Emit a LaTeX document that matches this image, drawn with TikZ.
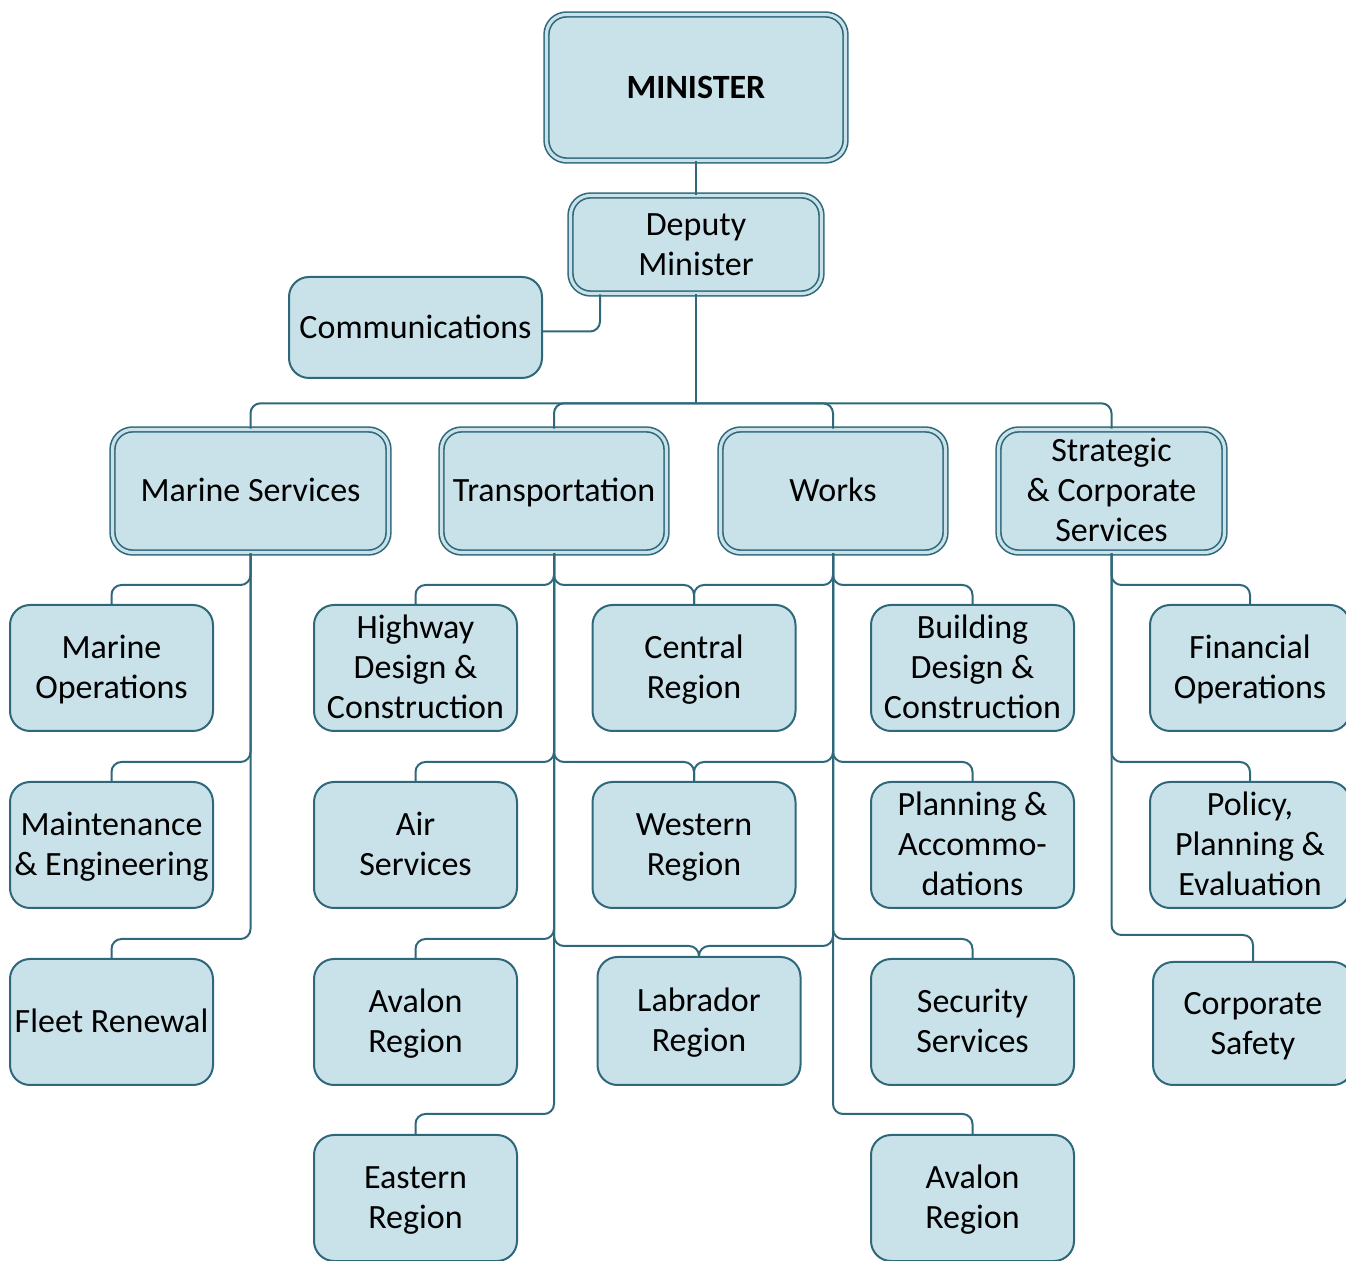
\documentclass[tikz,border=0pt]{standalone}
\usepackage{fontspec}
\setmainfont{Carlito}
\definecolor{boxfill}{RGB}{201,226,234}
\definecolor{boxline}{RGB}{46,104,122}
\newcommand{\bs}{\rule[-4.7pt]{0pt}{20pt}}
\begin{document}
\begin{tikzpicture}[x=0.5pt,y=-0.5pt,
  box/.style={draw=boxline, fill=boxfill, line width=1pt, rounded corners=10pt, align=center,
    font=\fontsize{17}{20}\selectfont, inner sep=0pt, minimum width=101.5pt, minimum height=63pt},
  dbox/.style={box, double=boxfill, double distance=1.6pt, line width=0.8pt},
  conn/.style={draw=boxline, line width=1pt, rounded corners=5pt}]
\useasboundingbox (0,0) rectangle (1346,1261);
% top
\node[dbox, minimum width=149.5pt, minimum height=73pt, font=\fontsize{17}{20}\selectfont\bfseries] (min) at (696,87.5) {\bs MINISTER\bs};
\node[dbox, minimum width=125.5pt, minimum height=49pt] (dep) at (696,244.5) {\bs Deputy\\Minister\bs};
\node[box, minimum width=126.5pt, minimum height=50.5pt] (com) at (415.5,327.5) {\bs Communications\bs};
% departments
\node[dbox, minimum width=138pt, minimum height=61.5pt] (ms) at (250.5,491) {\bs Marine Services\bs};
\node[dbox, minimum width=112.5pt, minimum height=61.5pt] (tr) at (554,491) {\bs Transportation\bs};
\node[dbox, minimum width=112.5pt, minimum height=61.5pt] (wk) at (833,491) {\bs Works\bs};
\node[dbox, minimum width=113pt, minimum height=61.5pt] (sc) at (1111.5,491) {\bs Strategic\\\& Corporate\\Services\bs};
% marine children
\node[box] (mo) at (111.5,668) {\bs Marine\\Operations\bs};
\node[box] (me) at (111.5,845) {\bs Maintenance\\\& Engineering\bs};
\node[box] (fr) at (111.5,1022) {\bs Fleet Renewal\bs};
% transportation children
\node[box] (hd) at (415.5,668) {\bs Highway\\Design \&\\Construction\bs};
\node[box] (as) at (415.5,845) {\bs Air\\Services\bs};
\node[box] (av) at (415.5,1022) {\bs Avalon\\Region\bs};
\node[box] (er) at (415.5,1198) {\bs Eastern\\Region\bs};
\node[box] (cr) at (694,668) {\bs Central\\Region\bs};
\node[box] (wr) at (694,845) {\bs Western\\Region\bs};
\node[box, minimum height=64pt] (lr) at (699,1021) {\bs Labrador\\Region\bs};
% works children
\node[box] (bd) at (972.5,668) {\bs Building\\Design \&\\Construction\bs};
\node[box] (pa) at (972.5,845) {\bs Planning \&\\Accommo-\\dations\bs};
\node[box] (ss) at (972.5,1022) {\bs Security\\Services\bs};
\node[box] (aw) at (972.5,1198) {\bs Avalon\\Region\bs};
% strategic children
\node[box, minimum width=100pt] (fo) at (1250,668) {\bs Financial\\Operations\bs};
\node[box, minimum width=100pt] (pp) at (1250,845) {\bs Policy,\\Planning \&\\Evaluation\bs};
\node[box, minimum width=100pt, minimum height=61.5pt] (cs) at (1253,1023.5) {\bs Corporate\\Safety\bs};
% connectors
\coordinate (hub) at ([yshift=-54.5pt]dep.south);
\draw[conn] (min) -- (dep);
\draw[conn] (dep.south) ++(-96,0) |- ([yshift=-2pt]com.east);
\draw[conn] (dep.south) -- (hub);
\foreach \d in {ms,tr,wk,sc} \draw[conn] (hub) -| (\d.north);
\foreach \c in {mo,me,fr} \draw[conn] (ms.south) |- ([yshift=9.5pt]\c.north) -- (\c.north);
\foreach \c in {hd,as,av,cr,wr} \draw[conn] (tr.south) |- ([yshift=9.5pt]\c.north) -- (\c.north);
\draw[conn] (tr.south) |- ([yshift=10pt]er.north) -- (er.north);
\draw[conn] (tr.south) |- ([yshift=5pt]lr.north) -- (lr.north);
\foreach \c in {bd,pa,ss,cr,wr} \draw[conn] (wk.south) |- ([yshift=9.5pt]\c.north) -- (\c.north);
\draw[conn] (wk.south) |- ([yshift=10pt]aw.north) -- (aw.north);
\draw[conn] (wk.south) |- ([yshift=5pt]lr.north) -- (lr.north);
\foreach \c in {fo,pp} \draw[conn] (sc.south) |- ([yshift=9.5pt]\c.north) -- (\c.north);
\draw[conn] (sc.south) |- ([yshift=13pt]cs.north) -- (cs.north);
\end{tikzpicture}
\end{document}
